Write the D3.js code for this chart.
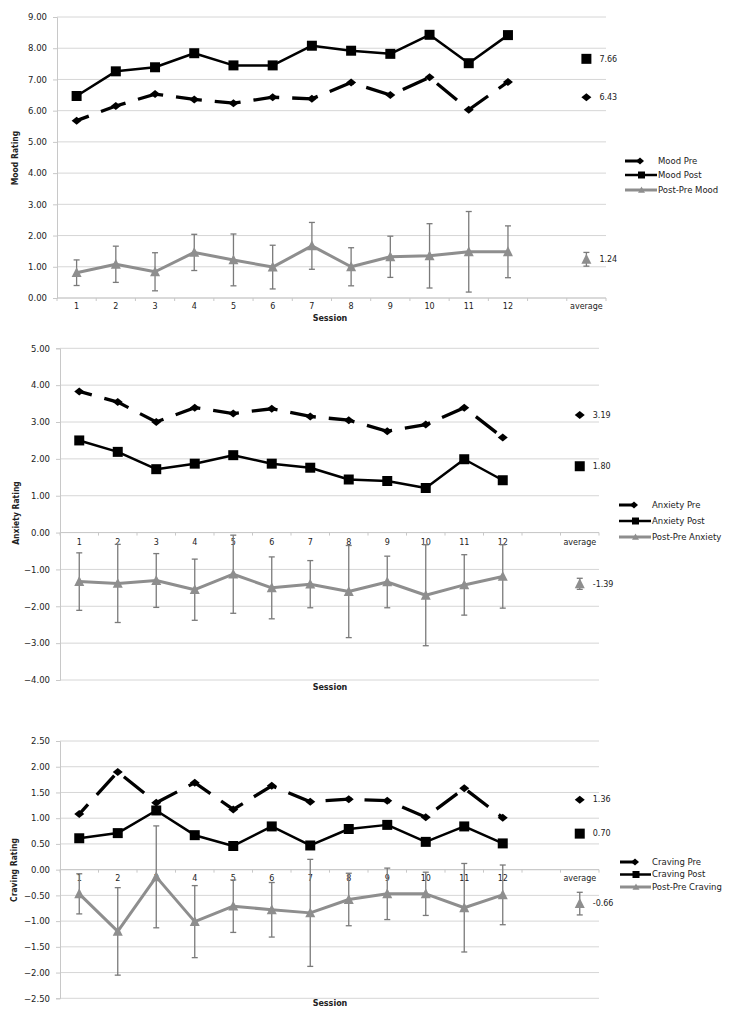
<!DOCTYPE html>
<html>
<head>
<meta charset="utf-8">
<script src="https://d3js.org/d3.v7.min.js"></script>
<style>
  html, body { margin: 0; padding: 0; background: #fff; }
  svg { display: block; }
</style>
</head>
<body>
<svg id="chart" width="741" height="1015"></svg>
<script>
// ---------------- DATA ----------------
const sessions = ["1","2","3","4","5","6","7","8","9","10","11","12"];
const xCategories = ["1","2","3","4","5","6","7","8","9","10","11","12","", "average"];

const moodPre  = [5.68, 6.15, 6.53, 6.36, 6.24, 6.43, 6.38, 6.90, 6.50, 7.07, 6.03, 6.92];
const moodPost = [6.47, 7.26, 7.39, 7.84, 7.45, 7.45, 8.08, 7.92, 7.82, 8.43, 7.52, 8.42];
const moodDiff = [0.81, 1.08, 0.84, 1.46, 1.22, 0.99, 1.67, 1.00, 1.32, 1.35, 1.48, 1.48];
const moodDiffErr = [0.41, 0.58, 0.61, 0.58, 0.83, 0.70, 0.75, 0.61, 0.66, 1.03, 1.29, 0.83];
const moodAverages = [6.43, 7.66, 1.24];   // pre, post, diff
const moodAverageErr = 0.22;
const moodTicks = [0, 1, 2, 3, 4, 5, 6, 7, 8, 9];
const moodLegend = ["Mood Pre", "Mood Post", "Post-Pre Mood"];

const anxietyPre  = [3.83, 3.54, 3.00, 3.39, 3.23, 3.36, 3.15, 3.05, 2.75, 2.93, 3.39, 2.58];
const anxietyPost = [2.50, 2.19, 1.72, 1.87, 2.10, 1.87, 1.76, 1.44, 1.40, 1.21, 1.99, 1.42];
const anxietyDiff = [-1.33, -1.38, -1.30, -1.55, -1.13, -1.50, -1.40, -1.60, -1.34, -1.70, -1.42, -1.19];
const anxietyDiffErr = [0.78, 1.06, 0.73, 0.83, 1.06, 0.84, 0.64, 1.25, 0.70, 1.37, 0.82, 0.86];
const anxietyAverages = [3.19, 1.80, -1.39];
const anxietyAverageErr = 0.15;
const anxietyTicks = [-4, -3, -2, -1, 0, 1, 2, 3, 4, 5];
const anxietyLegend = ["Anxiety Pre", "Anxiety Post", "Post-Pre Anxiety"];

const cravingPre  = [1.08, 1.90, 1.30, 1.69, 1.17, 1.63, 1.32, 1.37, 1.34, 1.02, 1.58, 1.01];
const cravingPost = [0.61, 0.71, 1.15, 0.67, 0.46, 0.84, 0.47, 0.79, 0.87, 0.54, 0.84, 0.51];
const cravingDiff = [-0.47, -1.20, -0.14, -1.01, -0.71, -0.78, -0.84, -0.58, -0.47, -0.47, -0.74, -0.49];
const cravingDiffErr = [0.39, 0.85, 0.99, 0.70, 0.51, 0.53, 1.04, 0.51, 0.50, 0.42, 0.86, 0.58];
const cravingAverages = [1.36, 0.70, -0.66];
const cravingAverageErr = 0.22;
const cravingTicks = [-2.5, -2, -1.5, -1, -0.5, 0, 0.5, 1, 1.5, 2, 2.5];
const cravingLegend = ["Craving Pre", "Craving Post", "Post-Pre Craving"];

// ---------------- STYLE ----------------
const BLACK = "#000";
const GREY = "#8e8e8e";
const ERR = "#7a7a7a";
const GRID = "#d6d6d6";
const TEXT = "#222";
const FONT = "'DejaVu Sans', Verdana, sans-serif";
const NARROW = "'Liberation Sans Narrow', 'Arial Narrow', 'DejaVu Sans Condensed', sans-serif";

const svg = d3.select("#chart");

const diamondPath = (hw, hh) => `M0,${-hh}L${hw},0L0,${hh}L${-hw},0Z`;
const squarePath = (h) => `M${-h},${-h}H${h}V${h}H${-h}Z`;
const trianglePath = (hw, hh) => `M0,${-hh}L${hw},${hh*0.8}L${-hw},${hh*0.8}Z`;

function drawChart(cfg) {
  const g = svg.append("g");
  const x = d3.scaleBand().domain(xCategories).range([cfg.left, cfg.right]);
  const y = d3.scaleLinear().domain(cfg.domain).range([cfg.bottom, cfg.top]);
  const cx = c => x(c) + x.bandwidth() / 2;

  // gridlines
  g.append("g").selectAll("line").data(cfg.ticks).join("line")
    .attr("x1", cfg.left).attr("x2", cfg.right)
    .attr("y1", d => y(d)).attr("y2", d => y(d))
    .attr("stroke", GRID).attr("stroke-width", 1);

  // y axis
  const yAxis = d3.axisLeft(y).tickValues(cfg.ticks).tickSize(4).tickPadding(6)
    .tickFormat(d3.format(".2f"));
  const ya = g.append("g").attr("transform", `translate(${cfg.left},0)`).call(yAxis);
  ya.select(".domain").attr("stroke", "#c8c8c8");
  ya.selectAll(".tick line").attr("stroke", "#c8c8c8");
  ya.selectAll("text").attr("font-family", FONT).attr("font-size", 8.5).attr("fill", TEXT);

  // x axis line at y = axisValue
  const axY = y(cfg.axisValue);
  g.append("line").attr("x1", cfg.left).attr("x2", cfg.right)
    .attr("y1", axY).attr("y2", axY).attr("stroke", "#c8c8c8").attr("stroke-width", 1);
  // minor ticks at band boundaries
  g.append("g").selectAll("line").data(xCategories.map((c, i) => i).concat([xCategories.length]))
    .join("line")
    .attr("x1", i => cfg.left + i * x.step()).attr("x2", i => cfg.left + i * x.step())
    .attr("y1", axY).attr("y2", axY + 3)
    .attr("stroke", "#c8c8c8");
  // x labels
  g.append("g").selectAll("text").data(xCategories.filter(c => c !== "")).join("text")
    .attr("x", c => cx(c)).attr("y", axY + cfg.labelOffset)
    .attr("text-anchor", "middle").attr("font-family", FONT).attr("font-size", 8)
    .attr("fill", TEXT).text(c => c);

  // axis titles
  g.append("text").attr("x", cfg.sessionX).attr("y", cfg.sessionY)
    .attr("text-anchor", "middle").attr("font-family", FONT).attr("font-weight", "bold")
    .attr("font-size", 8).attr("fill", TEXT).text("Session");
  g.append("text")
    .attr("transform", `translate(${cfg.yTitleX},${cfg.yTitleY}) rotate(-90)`)
    .attr("text-anchor", "middle").attr("font-family", NARROW).attr("font-weight", "bold")
    .attr("font-size", 8.5).attr("fill", TEXT).text(cfg.yTitle);

  const line = d3.line().x((d, i) => cx(sessions[i])).y(d => y(d));

  // Post-Pre line + error bars
  const eb = g.append("g");
  cfg.diff.forEach((v, i) => {
    const xx = cx(sessions[i]);
    const hi = y(v + cfg.diffErr[i]), lo = y(v - cfg.diffErr[i]);
    eb.append("line").attr("x1", xx).attr("x2", xx).attr("y1", hi).attr("y2", lo)
      .attr("stroke", ERR).attr("stroke-width", 1.3);
    [hi, lo].forEach(yy => eb.append("line").attr("x1", xx - 3).attr("x2", xx + 3)
      .attr("y1", yy).attr("y2", yy).attr("stroke", ERR).attr("stroke-width", 1.3));
  });
  g.append("path").datum(cfg.diff).attr("d", line).attr("fill", "none")
    .attr("stroke", GREY).attr("stroke-width", 3).attr("stroke-linejoin", "round");
  g.append("g").selectAll("path").data(cfg.diff).join("path")
    .attr("transform", (d, i) => `translate(${cx(sessions[i])},${y(d)})`)
    .attr("d", trianglePath(5, 5.5)).attr("fill", GREY);

  // Pre (dashed)
  g.append("path").datum(cfg.pre).attr("d", line).attr("fill", "none")
    .attr("stroke", BLACK).attr("stroke-width", 3.3)
    .attr("stroke-dasharray", "26,13").attr("stroke-dashoffset", 13);
  g.append("g").selectAll("path").data(cfg.pre).join("path")
    .attr("transform", (d, i) => `translate(${cx(sessions[i])},${y(d)})`)
    .attr("d", diamondPath(5, 4)).attr("fill", BLACK);

  // Post (solid)
  g.append("path").datum(cfg.post).attr("d", line).attr("fill", "none")
    .attr("stroke", BLACK).attr("stroke-width", 2.5).attr("stroke-linejoin", "round");
  g.append("g").selectAll("path").data(cfg.post).join("path")
    .attr("transform", (d, i) => `translate(${cx(sessions[i])},${y(d)})`)
    .attr("d", squarePath(5)).attr("fill", BLACK);

  // averages
  const ax = cx("average");
  const [aPre, aPost, aDiff] = cfg.averages;
  g.append("path").attr("transform", `translate(${ax},${y(aPre)})`)
    .attr("d", diamondPath(5, 4)).attr("fill", BLACK);
  g.append("path").attr("transform", `translate(${ax},${y(aPost)})`)
    .attr("d", squarePath(5)).attr("fill", BLACK);
  const ahi = y(aDiff + cfg.averageErr), alo = y(aDiff - cfg.averageErr);
  g.append("line").attr("x1", ax).attr("x2", ax).attr("y1", ahi).attr("y2", alo)
    .attr("stroke", ERR).attr("stroke-width", 1.3);
  [ahi, alo].forEach(yy => g.append("line").attr("x1", ax - 3).attr("x2", ax + 3)
    .attr("y1", yy).attr("y2", yy).attr("stroke", ERR).attr("stroke-width", 1.3));
  g.append("path").attr("transform", `translate(${ax},${y(aDiff)})`)
    .attr("d", trianglePath(5, 5.5)).attr("fill", GREY);
  g.append("g").selectAll("text").data(cfg.averages).join("text")
    .attr("x", ax + 13).attr("y", d => y(d)).attr("dy", "0.35em")
    .attr("font-family", FONT).attr("font-size", 8).attr("fill", TEXT)
    .text(d => d3.format(".2f")(d).replace("−", "-"));

  // legend
  const lg = g.append("g");
  const lx = cfg.legendX, tx = cfg.legendTextX;
  cfg.legendRows.forEach((ry, i) => {
    if (i === 0) {
      lg.append("line").attr("x1", lx).attr("x2", lx + 14).attr("y1", ry).attr("y2", ry)
        .attr("stroke", BLACK).attr("stroke-width", 3);
      lg.append("path").attr("transform", `translate(${lx + 15},${ry})`)
        .attr("d", diamondPath(4, 3.5)).attr("fill", BLACK);
    } else if (i === 1) {
      lg.append("line").attr("x1", lx).attr("x2", tx - 1).attr("y1", ry).attr("y2", ry)
        .attr("stroke", BLACK).attr("stroke-width", 2.5);
      lg.append("path").attr("transform", `translate(${(lx + tx) / 2},${ry})`)
        .attr("d", squarePath(3.5)).attr("fill", BLACK);
    } else {
      lg.append("line").attr("x1", lx).attr("x2", tx - 1).attr("y1", ry).attr("y2", ry)
        .attr("stroke", GREY).attr("stroke-width", 3);
      lg.append("path").attr("transform", `translate(${(lx + tx) / 2},${ry})`)
        .attr("d", trianglePath(3.5, 3.5)).attr("fill", GREY);
    }
    lg.append("text").attr("x", tx).attr("y", ry).attr("dy", "0.35em")
      .attr("font-family", FONT).attr("font-size", 8.5).attr("fill", TEXT)
      .text(cfg.legend[i]);
  });
}

drawChart({
  left: 57, right: 606, top: 17, bottom: 298, domain: [0, 9], ticks: moodTicks,
  axisValue: 0, labelOffset: 11,
  pre: moodPre, post: moodPost, diff: moodDiff, diffErr: moodDiffErr,
  averages: moodAverages, averageErr: moodAverageErr,
  yTitle: "Mood Rating", yTitleX: 18, yTitleY: 158,
  sessionX: 330, sessionY: 321,
  legend: moodLegend, legendX: 625, legendTextX: 658,
  legendRows: [161, 175, 190]
});

drawChart({
  left: 60, right: 599, top: 348.3, bottom: 680, domain: [-4, 5], ticks: anxietyTicks,
  axisValue: 0, labelOffset: 12,
  pre: anxietyPre, post: anxietyPost, diff: anxietyDiff, diffErr: anxietyDiffErr,
  averages: anxietyAverages, averageErr: anxietyAverageErr,
  yTitle: "Anxiety Rating", yTitleX: 19, yTitleY: 513,
  sessionX: 330, sessionY: 690,
  legend: anxietyLegend, legendX: 619, legendTextX: 652,
  legendRows: [505, 521, 537]
});

drawChart({
  left: 60, right: 599, top: 741, bottom: 998.3, domain: [-2.5, 2.5], ticks: cravingTicks,
  axisValue: 0, labelOffset: 11,
  pre: cravingPre, post: cravingPost, diff: cravingDiff, diffErr: cravingDiffErr,
  averages: cravingAverages, averageErr: cravingAverageErr,
  yTitle: "Craving Rating", yTitleX: 17, yTitleY: 870,
  sessionX: 330, sessionY: 1006,
  legend: cravingLegend, legendX: 620, legendTextX: 652,
  legendRows: [862, 874.5, 887]
});
</script>
</body>
</html>
